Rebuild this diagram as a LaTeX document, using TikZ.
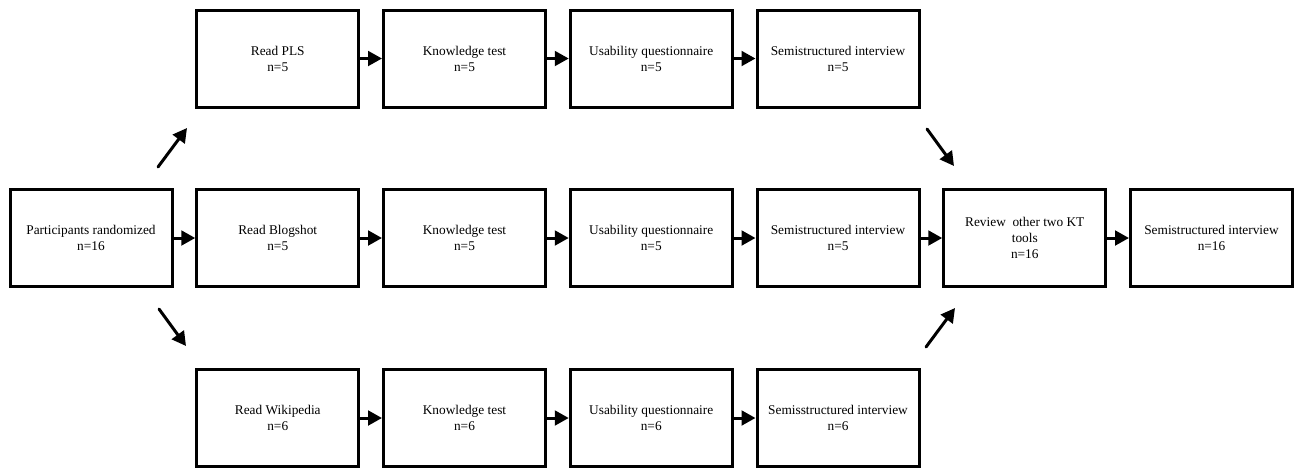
\documentclass[tikz,border=0pt]{standalone}
\usepackage{fontspec}
\setmainfont{Liberation Serif}
\usetikzlibrary{arrows.meta}
\begin{document}
\begin{tikzpicture}[x=0.75pt,y=-0.75pt,
  stagebox/.style={draw=black,line width=2.25pt,rectangle,minimum width=121.5pt,minimum height=72.75pt,
    align=center,inner sep=0pt,font=\fontsize{10}{12}\selectfont},
  flow/.style={draw=black,line width=2.25pt,-{Triangle[length=10.5pt,width=11pt]},shorten >=0pt}]
\useasboundingbox (0,0) rectangle (1295,469);
% top row
\node[stagebox] (t1) at (277.75,58.5) {Read PLS\\n=5};
\node[stagebox] (t2) at (464.5,58.5) {Knowledge test\\n=5};
\node[stagebox] (t3) at (651.25,58.5) {Usability questionnaire\\n=5};
\node[stagebox] (t4) at (838,58.5) {Semistructured interview\\n=5};
% middle row
\node[stagebox] (m0) at (91,238) {Participants randomized\\n=16};
\node[stagebox] (m1) at (277.75,238) {Read Blogshot\\n=5};
\node[stagebox] (m2) at (464.5,238) {Knowledge test\\n=5};
\node[stagebox] (m3) at (651.25,238) {Usability questionnaire\\n=5};
\node[stagebox] (m4) at (838,238) {Semistructured interview\\n=5};
\node[stagebox] (m5) at (1024.75,238) {Review\ \ other two KT\\tools\\n=16};
\node[stagebox] (m6) at (1211.5,238) {Semistructured interview\\n=16};
% bottom row
\node[stagebox] (b1) at (277.75,418) {Read Wikipedia\\n=6};
\node[stagebox] (b2) at (464.5,418) {Knowledge test\\n=6};
\node[stagebox] (b3) at (651.25,418) {Usability questionnaire\\n=6};
\node[stagebox] (b4) at (838,418) {Semisstructured interview\\n=6};
% horizontal arrows
\foreach \a/\b in {t1/t2,t2/t3,t3/t4,m0/m1,m1/m2,m2/m3,m3/m4,m4/m5,m5/m6,b1/b2,b2/b3,b3/b4}
  \draw[flow] (\a.east) -- (\b.west);
% diagonal arrows
\coordinate (a1s) at (158,167); \coordinate (a1e) at (187,128);
\coordinate (a2s) at (159,309); \coordinate (a2e) at (186,346);
\coordinate (a3s) at (927,129); \coordinate (a3e) at (954,166);
\coordinate (a4s) at (926,347); \coordinate (a4e) at (955,308);
\draw[flow,line cap=round] (a1s) -- (a1e);
\draw[flow,line cap=round] (a2s) -- (a2e);
\draw[flow,line cap=round] (a3s) -- (a3e);
\draw[flow,line cap=round] (a4s) -- (a4e);
\end{tikzpicture}
\end{document}
